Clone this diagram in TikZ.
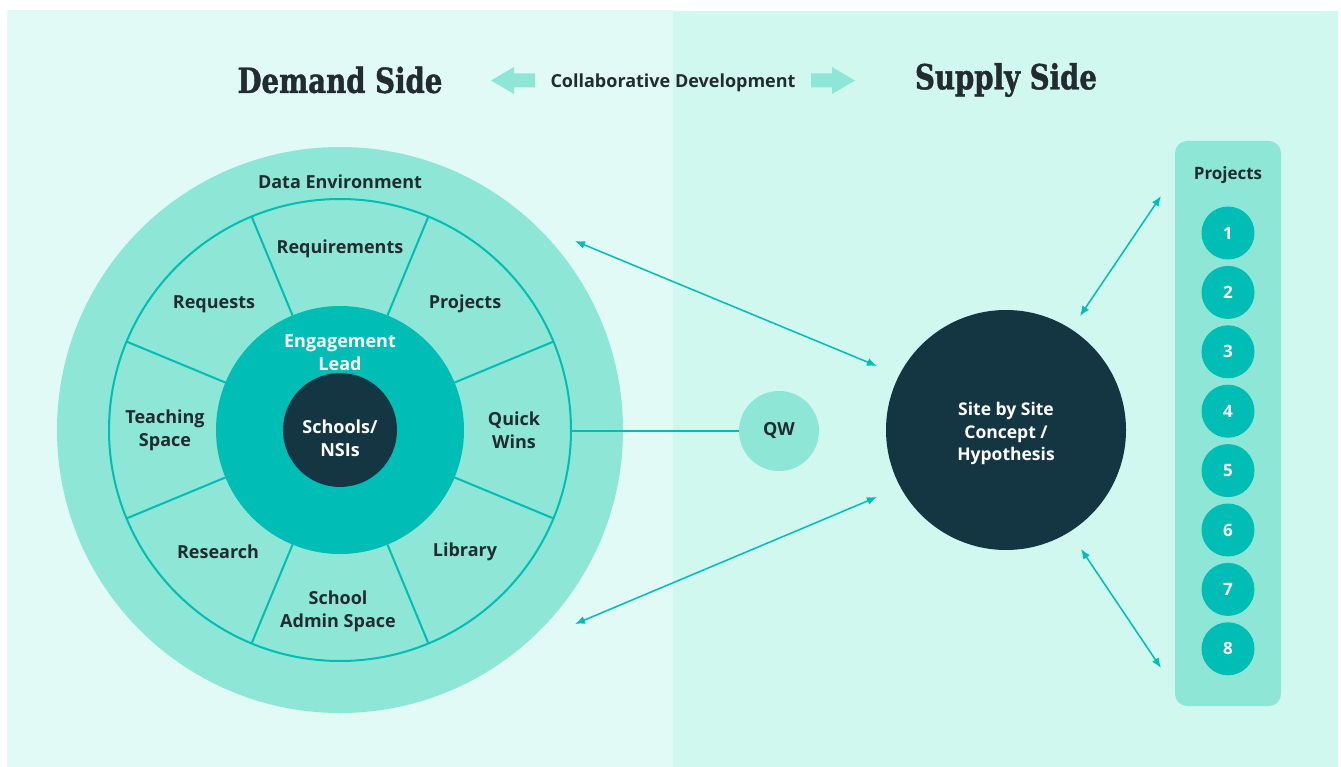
\documentclass[tikz,border=0pt]{standalone}
\usepackage{fontspec}
\setmainfont{Open Sans}
\newfontfamily\slab{DejaVu Serif}[FakeStretch=0.8, BoldFeatures={FakeBold=1.2}]
\usetikzlibrary{arrows.meta}
\definecolor{bgL}{HTML}{E1FAF5}
\definecolor{bgR}{HTML}{D1F8EF}
\definecolor{mint}{HTML}{8EE7D6}
\definecolor{tealc}{HTML}{00BDB5}
\definecolor{navy}{HTML}{143642}
\definecolor{ink}{HTML}{222B30}
\tikzset{
  lbl/.style={text=ink, font=\fontsize{18}{23}\selectfont\bfseries, align=center, inner sep=0pt, yshift=-2.5pt},
  heading/.style={text=ink, font=\fontsize{34.5}{38}\selectfont\slab\bfseries, inner sep=0pt},
  disc/.style={circle, inner sep=0pt, minimum size=#1},
  link/.style={tealc, line width=1.5pt, {Latex[length=10pt,width=8pt]}-{Latex[length=10pt,width=8pt]}},
  projnum/.style={disc=53pt, fill=tealc, text=white, font=\fontsize{17}{20}\selectfont\bfseries},
  hdarrow/.style={fill=mint}
}
\begin{document}
\begin{tikzpicture}[x=1pt,y=-1pt]
\useasboundingbox (0,0) rectangle (1341,767);
% panels
\fill[bgL] (7,10) rectangle (673,767);
\fill[bgR] (673,11) rectangle (1338,767);

% header
\node[heading] (demand) at (340,80) {Demand Side};
\node[heading] (supply) at (1006,80) {Supply Side};
\node[lbl, font=\fontsize{18}{22}\selectfont\bfseries] (collab) at (673,80) {Collaborative Development};
\fill[hdarrow] (491,80.5) -- (514,67) -- (514,73.5) -- (535,73.5) -- (535,87.5) -- (514,87.5) -- (514,94) -- cycle;
\fill[hdarrow] (855,80.5) -- (832,67) -- (832,73.5) -- (811,73.5) -- (811,87.5) -- (832,87.5) -- (832,94) -- cycle;

% wheel
\node[disc=566pt, fill=mint] (env) at (340,430) {};
\node[disc=462pt, fill=mint, draw=tealc, line width=2pt] (ring) at (340,430) {};
\begin{scope}[shift={(340,430)}]
  \foreach \a in {22.5,67.5,...,337.5}
    \draw[tealc, line width=2pt] (\a:124) -- (\a:231);
\end{scope}
\node[disc=248pt, fill=tealc] (lead) at (340,430) {};
\node[disc=114pt, fill=navy] (schools) at (340,430) {};

\node[lbl] (denv) at (340,179) {Data Environment};
\node[lbl] (req) at (340,246) {Requirements};
\node[lbl] (proj) at (465,301) {Projects};
\node[lbl] (quick) at (514,428) {Quick\\Wins};
\node[lbl] (lib) at (465,549) {Library};
\node[lbl] (admin) at (338,609) {School\\Admin Space};
\node[lbl] (res) at (218,549) {Research};
\node[lbl] (teach) at (165,428) {Teaching\\Space};
\node[lbl] (reqs) at (214,302) {Requests};
\node[lbl, text=white] (leadtxt) at (340,350) {Engagement\\Lead};
\node[lbl, text=white] (schtxt) at (340,436) {Schools/\\NSIs};

% QW
\node[disc=80pt, fill=mint, text=ink, font=\fontsize{18}{22}\selectfont\bfseries] (qw) at (779,431) {QW};
\draw[tealc, line width=2pt] (ring.east |- qw.west) -- (qw.west);

% site circle
\node[disc=240pt, fill=navy] (site) at (1006,430) {};
\node[lbl, text=white, font=\fontsize{17.5}{22.5}\selectfont\bfseries] (sitetxt) at (1006,431) {Site by Site\\Concept /\\Hypothesis};

% projects column
\node[rounded corners=12pt, fill=mint, minimum width=106pt, minimum height=565pt, inner sep=0pt] (col) at (1228,423.5) {};
\node[lbl, font=\fontsize{17}{20}\selectfont\bfseries] (colt) at (1228,173) {Projects};
\foreach \i in {1,...,8}
  \node[projnum] (p\i) at (1228,{233+(\i-1)*59.4}) {\i};

% bidirectional links
\coordinate (a1) at (575,241);
\coordinate (a2) at (877,366);
\coordinate (b1) at (575,624);
\coordinate (b2) at (877,497);
\coordinate (c1) at (1080,316);
\coordinate (c2) at (1161,196);
\coordinate (d1) at (1081,549);
\coordinate (d2) at (1161,668);
\draw[link] (a1) -- (a2);
\draw[link] (b1) -- (b2);
\draw[link] (c1) -- (c2);
\draw[link] (d1) -- (d2);
\end{tikzpicture}
\end{document}
